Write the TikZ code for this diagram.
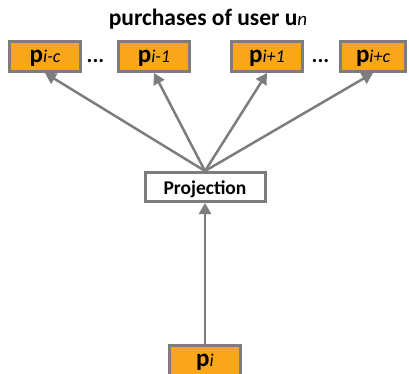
\documentclass[tikz,border=0pt]{standalone}
\usepackage{fontspec}
\setmainfont{Carlito}
\usepackage{xcolor}
\usetikzlibrary{arrows.meta}
\definecolor{itemorange}{RGB}{250,166,26}
\definecolor{edgegray}{RGB}{125,125,125}
\newcommand{\purch}[1]{{\bfseries p}{\fontsize{18}{18}\selectfont\itshape #1}}

\begin{document}
\begin{tikzpicture}[
		x=1pt, y=-1pt,
		item/.style={
			draw=edgegray,
			line width=3pt,
			fill=itemorange,
			minimum width=71pt,
			minimum height=30pt,
			inner sep=0pt,
			text height=12pt,
			text depth=0pt,
			font=\fontsize{25}{25}\selectfont
			},
		proj/.style={
			draw=edgegray,
			line width=3pt,
			fill=white,
			minimum width=120pt,
			minimum height=29pt,
			inner sep=0pt,
			text height=14pt,
			text depth=0pt,
			font=\fontsize{19.5}{19.5}\selectfont\bfseries
			},
		link/.style={
			draw=edgegray,
			line width=2.5pt,
			-{Triangle[length=11pt,width=12pt]}
			}
		]
		\useasboundingbox (0,0) rectangle (409,374);

		% title
		\node[anchor=base, font=\fontsize{23.5}{23.5}\selectfont\bfseries] (title) at (208,26) {purchases of user u{\fontsize{19}{19}\selectfont\mdseries\itshape n}};

		% context purchases
		\node[item] (pmc) at (45,56.5) {\purch{i-c}};
		\node[item] (pm1) at (154,56.5) {\purch{i-1}};
		\node[item] (pp1) at (267,56.5) {\purch{i+1}};
		\node[item, minimum width=65pt] (ppc) at (373,56.5) {\purch{i+c}};
		\node[anchor=base, font=\fontsize{22}{22}\selectfont\bfseries] (dotsl) at (95.5,62.5) {...};
		\node[anchor=base, font=\fontsize{22}{22}\selectfont\bfseries] (dotsr) at (320.5,62.5) {...};

		% projection and input
		\node[proj] (proj) at (205,187) {Projection};
		\node[item] (pin) at (205,360) {\purch{i}};

		\draw[link] (pin) -- (proj);
		\draw[link] (proj.north) -- (pmc.south);
		\draw[link] (proj.north) -- (pm1.south);
		\draw[link] (proj.north) -- (pp1.south);
		\draw[link] (proj.north) -- (ppc.south);
	\end{tikzpicture}
\end{document}
